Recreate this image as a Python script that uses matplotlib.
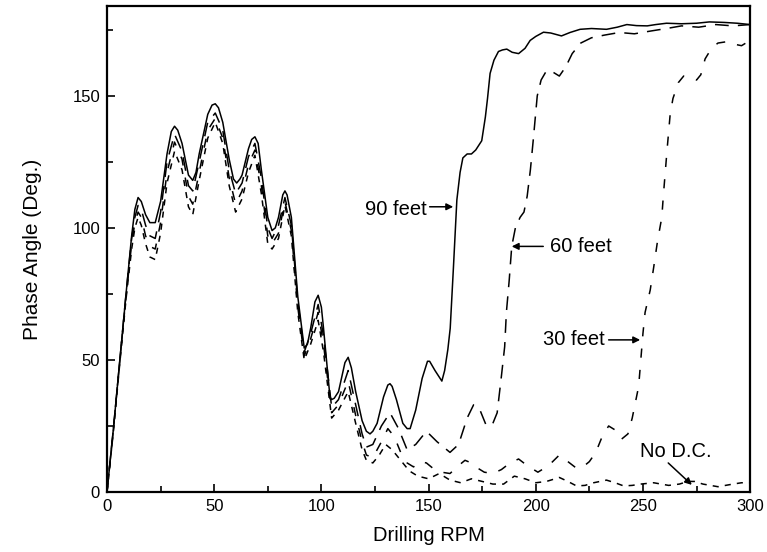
import matplotlib
matplotlib.use('Agg')
import matplotlib.pyplot as plt
from matplotlib.ticker import MultipleLocator

# ---- data (RPM, phase angle in deg) ----
rpm_90 = [0, 3, 6, 9, 11.5, 13, 14.5, 16, 18, 20, 22.5, 25, 28, 30, 31.5, 33, 35, 38, 40, 41.5,
          43, 47, 49, 50.5, 52, 54, 57, 59, 60.5, 62, 63, 66, 67.5, 69, 70.5, 72, 75, 77, 78.5, 80,
          82, 83, 84, 86, 89, 92, 93.5, 95, 97, 98.5, 100, 101, 104, 104.8, 106, 108, 111, 112.5, 114, 116,
          119, 121, 122.7, 124, 126, 129, 131, 132, 133, 135, 138, 140, 141.4, 144, 147, 149.5, 150.5,
          153, 156.2, 157.5, 159, 160.1, 161.6, 163.2, 164.7, 166, 168, 170, 172, 174.8, 176.5, 177.5,
          178.7, 180.5, 182.6, 184.5, 186.5, 189, 192, 195, 197.4, 200, 203.6, 207, 212, 216, 220.7,
          226, 233, 238, 242.5, 247, 252, 256, 261, 268, 275, 281, 288, 294, 300]
phase_90 = [0, 24, 50, 76, 97, 107, 111.5, 110, 105, 102, 102, 110, 128, 136.5, 138.5, 137, 132, 120, 118, 121,
            128, 143, 146.5, 147, 145.5, 140, 126, 118.5, 117, 118.5, 120, 130, 133.5, 134.5, 132, 122, 104, 99, 100, 104,
            112.5, 114, 112.5, 104, 74, 54.5, 56, 62, 72, 74.5, 70, 62, 36, 35, 35.5, 38, 49, 51, 47, 38,
            27, 23, 22, 23, 26, 36, 40.5, 41, 40, 35, 26, 24, 24, 31, 43, 49.5, 49.5,
            46, 42, 46, 54, 62, 85, 110.6, 121, 126.5, 128, 128, 129.5, 133, 142, 149,
            158.5, 163.5, 166.8, 167.4, 167.7, 166.5, 166, 168, 171, 172.5, 174.1, 173.8, 172.7, 174, 175.2,
            175.5, 175.2, 176, 177, 176.6, 176.5, 177, 177.5, 177.3, 177.5, 178, 177.8, 177.5, 177]

rpm_low = [0, 3, 6, 9, 11.5, 13, 14.5, 16, 18, 20, 22.5, 25, 28, 31.5, 35, 38, 40, 43, 47, 50.5,
           54, 57, 60, 63, 66, 69, 72, 75, 77, 80, 83, 86, 89, 92, 95, 98.5, 101, 104.8, 108, 112.5,
           116, 119]

rpm_60 = rpm_low + [121, 124, 128, 132, 136, 140, 144, 149, 154, 160, 164, 168, 171, 174, 177, 180,
                    182, 184, 185.5, 186.3, 187.6, 188.8, 190.5, 192.7, 194.5, 196, 197.5, 198.8,
                    200.7, 202.5, 205, 208, 211, 214, 217, 221, 226, 232, 239, 246, 254, 261, 268,
                    276, 284, 292, 300]
phase_60 = [0, 24, 50, 76, 96, 104, 108.5, 107, 101, 97, 96, 106, 125, 135.5, 129, 116, 114, 125, 140, 143.5,
            137, 122, 113, 117, 127, 132, 119, 100, 96, 101, 111.5, 101, 72, 53, 60, 71, 59, 32, 35, 46,
            33, 22] + [17, 18, 25, 30, 24, 16, 18, 23, 19, 15, 18, 28, 33, 31, 25, 26,
                       30, 44, 55, 68, 80, 93, 100, 104, 106, 112, 122, 133,
                       150, 156, 159.5, 159, 157.5, 161, 166, 170, 172, 173, 174, 173.5, 174.6, 175.5, 176.5,
                       176, 177, 176.5, 177]

rpm_30 = rpm_low + [121, 124, 128, 131, 134, 137, 140, 143, 146, 149, 152, 156, 160, 164, 167, 170,
                    173, 176, 180, 184, 188, 192, 196, 201, 206, 211, 215, 219, 222, 225, 228, 231,
                    234, 237, 240, 243, 245, 246.5, 248, 249, 250, 251, 253.4, 255, 256.8, 258.8,
                    259.5, 260.5, 261.3, 262.7, 264, 266.5, 269, 272, 275, 277, 279, 282, 285, 289,
                    293, 296, 300]
phase_30 = [0, 24, 50, 75, 94, 102, 106, 104, 97, 93, 92, 102, 121, 132.5, 126, 112, 109, 121, 137, 141.5,
            134, 119, 109, 114, 124, 129.5, 116, 97, 94, 98, 110, 99, 70, 51.5, 58, 68, 56, 30, 33, 42,
            29, 19] + [14, 13, 19, 24, 21, 15, 11, 9.5, 11.5, 11, 9, 7.5, 7, 10, 12, 11,
                       9, 7.5, 7, 8.5, 11, 12.5, 10, 7.5, 10, 14, 11.5, 9, 9.5, 11.5, 15, 21,
                       25, 23.5, 20, 22, 28, 34, 40, 50, 60, 68, 76.5, 85, 95, 104,
                       112, 122, 130, 143, 149, 155, 157.5, 157, 156, 158, 164, 168, 170, 170.5,
                       169.5, 169, 171]

rpm_nodc = rpm_low + [121, 124, 127, 130, 133, 137, 141, 145, 150, 155, 160, 165, 170, 175, 180, 185,
                      190, 195, 200, 205, 211, 215, 219, 223, 227, 233, 237, 241, 245, 249, 255, 262,
                      267, 271, 274, 278, 285, 292, 296, 300]
phase_nodc = [0, 23, 49, 74, 92, 100, 104, 101, 94, 89, 88, 98, 117, 129, 122, 108, 105, 118, 134, 140,
              132, 116, 106, 111, 121, 127.5, 113, 94, 92, 96, 108.5, 97, 68, 50, 56, 65, 53, 28, 31, 38,
              26, 16] + [12, 11, 14, 18, 16, 12, 8, 6, 5, 7, 4.5, 3.5, 5, 4, 3, 3,
                         6, 5, 3.5, 4, 5.5, 4, 2.3, 2.5, 3.5, 4.5, 3.5, 2.3, 2.5, 3, 3.5, 2.5,
                         3, 4, 4, 3, 2, 3, 3.5, 3.5]

plt.rcParams['font.family'] = ['Liberation Sans', 'DejaVu Sans']

fig = plt.figure(figsize=(7.67, 5.52), dpi=100)
ax = fig.add_axes([0.1395, 0.1087, 0.8385, 0.8803])

lw = 1.1
ax.plot(rpm_90, phase_90, color='black', lw=lw)
ax.plot(rpm_60, phase_60, color='black', lw=lw, dashes=(9, 6))
ax.plot(rpm_30, phase_30, color='black', lw=lw, dashes=(6, 8))
ax.plot(rpm_nodc, phase_nodc, color='black', lw=lw, dashes=(4, 4))

ax.set_xlim(0, 300)
ax.set_ylim(0, 184)
ax.xaxis.set_major_locator(MultipleLocator(50))
ax.xaxis.set_minor_locator(MultipleLocator(25))
ax.yaxis.set_major_locator(MultipleLocator(50))
ax.yaxis.set_minor_locator(MultipleLocator(25))
ax.tick_params(which='both', direction='in', width=1.2, labelsize=12, pad=5)
ax.tick_params(which='major', length=6)
ax.tick_params(which='minor', length=4)
for s in ax.spines.values():
    s.set_linewidth(1.6)

ax.set_xlabel('Drilling RPM', fontsize=14.5, labelpad=9)
ax.set_ylabel('Phase Angle (Deg.)', fontsize=15, labelpad=22)

# labels with arrows
arr = dict(arrowstyle='-|>', color='black', lw=1.1, mutation_scale=10, shrinkA=0, shrinkB=0)
ax.text(149.3, 106.8, '90 feet', fontsize=14.5, ha='right', va='center')
ax.annotate('', xy=(161.5, 108), xytext=(150.5, 108), arrowprops=arr)
ax.text(206.7, 92.8, '60 feet', fontsize=14.5, ha='left', va='center')
ax.annotate('', xy=(188.8, 93), xytext=(203.5, 93), arrowprops=arr)
ax.text(232.4, 57.6, '30 feet', fontsize=14.5, ha='right', va='center')
ax.annotate('', xy=(248.7, 57.6), xytext=(234, 57.6), arrowprops=arr)
ax.text(248.7, 15.2, 'No D.C.', fontsize=14.5, ha='left', va='center')
ax.annotate('', xy=(272.8, 2.7), xytext=(261.8, 11), arrowprops=arr)

fig.savefig('out.png', dpi=100)
